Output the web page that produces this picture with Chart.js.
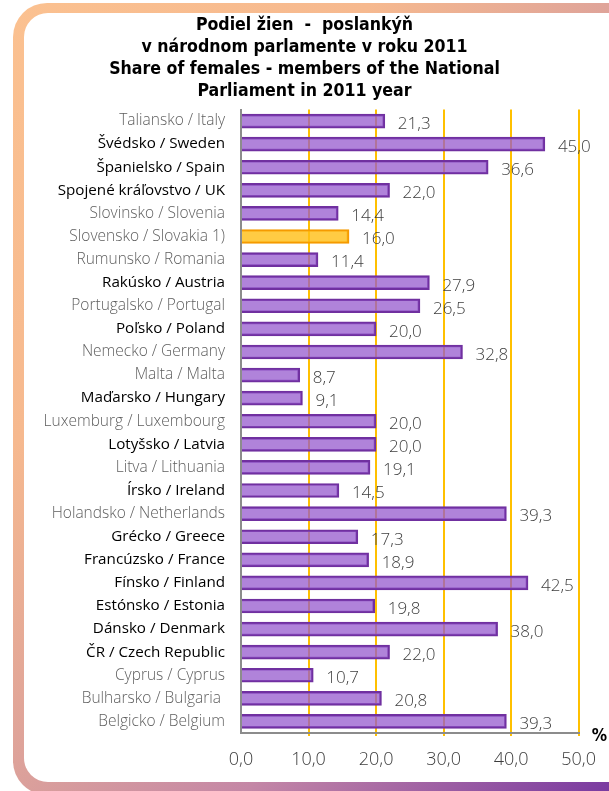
<!DOCTYPE html>
<html lang="sk">
<head>
<meta charset="utf-8">
<title>Podiel žien - poslankýň v národnom parlamente</title>
<script src="https://cdn.jsdelivr.net/npm/chart.js@4/dist/chart.umd.min.js"></script>
<style>
    html, body { margin: 0; padding: 0; background: #fff; }
    #obal { position: relative; width: 609px; height: 791px; overflow: hidden; }
    #ram {
        position: absolute; left: 13px; top: 3px; width: 640px; height: 792px;
        border-radius: 34px;
        background: linear-gradient(to bottom right, #fbc190 0%, #f6b98f 28%, #dba09b 50%, #c487a6 68%, #7030a0 100%);
    }
    #vnutro {
        position: absolute; left: 24px; top: 13px; width: 620px; height: 769px;
        border-radius: 24px; background: #fff;
    }
    #graf { position: absolute; left: 0; top: 0; }
</style>
</head>
<body>
<div id="obal">
    <div id="ram"></div>
    <div id="vnutro"></div>
    <canvas id="graf" width="609" height="791"></canvas>
</div>
<script>
// Krajiny a podiel žien v parlamente (%)
const krajiny = [
    'Taliansko / Italy', 'Švédsko / Sweden', 'Španielsko / Spain', 'Spojené kráľovstvo / UK',
    'Slovinsko / Slovenia', 'Slovensko / Slovakia 1)', 'Rumunsko / Romania', 'Rakúsko / Austria',
    'Portugalsko / Portugal', 'Poľsko / Poland', 'Nemecko / Germany', 'Malta / Malta',
    'Maďarsko / Hungary', 'Luxemburg / Luxembourg', 'Lotyšsko / Latvia', 'Litva / Lithuania',
    'Írsko / Ireland', 'Holandsko / Netherlands', 'Grécko / Greece', 'Francúzsko / France',
    'Fínsko / Finland', 'Estónsko / Estonia', 'Dánsko / Denmark', 'ČR / Czech Republic',
    'Cyprus / Cyprus', 'Bulharsko / Bulgaria ', 'Belgicko / Belgium'
];
const podielZien = [
    21.3, 45.0, 36.6, 22.0,
    14.4, 16.0, 11.4, 27.9,
    26.5, 20.0, 32.8, 8.7,
    9.1, 20.0, 20.0, 19.1,
    14.5, 39.3, 17.3, 18.9,
    42.5, 19.8, 38.0, 22.0,
    10.7, 20.8, 39.3
];
const osX = [0, 10, 20, 30, 40, 50];
const nadpis = [
    'Podiel žien  -  poslankýň',
    'v národnom parlamente v roku 2011',
    'Share of females - members of the National',
    'Parliament in 2011 year'
];
const jednotka = '%';

// Krajiny, ktorých popis je vysadený tmavším písmom
const tmaveStitky = new Set([
    'Švédsko / Sweden', 'Španielsko / Spain', 'Spojené kráľovstvo / UK', 'Rakúsko / Austria',
    'Poľsko / Poland', 'Maďarsko / Hungary', 'Lotyšsko / Latvia', 'Írsko / Ireland',
    'Grécko / Greece', 'Francúzsko / France', 'Fínsko / Finland', 'Estónsko / Estonia',
    'Dánsko / Denmark', 'ČR / Czech Republic'
]);

const formatCisla = v => v.toFixed(1).replace('.', ',');
const jeSlovensko = k => k.indexOf('Slovakia') !== -1;

// Hodnoty za koncom stĺpcov a značka jednotky pri osi
const popiskyHodnot = {
    id: 'popiskyHodnot',
    afterDatasetsDraw(chart) {
        const ctx = chart.ctx;
        const meta = chart.getDatasetMeta(0);
        ctx.save();
        ctx.font = '300 17px "Open Sans", sans-serif';
        ctx.fillStyle = '#404040';
        ctx.textAlign = 'left';
        ctx.textBaseline = 'middle';
        meta.data.forEach((stlpec, i) => {
            ctx.fillText(formatCisla(podielZien[i]), stlpec.x + 13, stlpec.y + 3);
        });
        const plocha = chart.chartArea;
        ctx.font = 'bold 17px "DejaVu Sans Condensed", "DejaVu Sans", sans-serif';
        ctx.fillStyle = '#000';
        ctx.fillText(jednotka, plocha.right + 13, plocha.bottom + 4);
        ctx.restore();
    }
};

new Chart(document.getElementById('graf'), {
    type: 'bar',
    data: {
        labels: krajiny,
        datasets: [{
            data: podielZien,
            backgroundColor: krajiny.map(k => jeSlovensko(k) ? 'rgba(255, 190, 20, 0.8)' : 'rgba(150, 90, 205, 0.75)'),
            borderColor: krajiny.map(k => jeSlovensko(k) ? '#f59a00' : '#7030a0'),
            borderWidth: 2,
            barThickness: 14
        }]
    },
    options: {
        indexAxis: 'y',
        responsive: false,
        animation: false,
        layout: { padding: { left: 0, right: 0, top: 0, bottom: 14 } },
        plugins: {
            legend: { display: false },
            tooltip: { enabled: false },
            title: {
                display: true,
                text: nadpis,
                color: '#000',
                font: { family: '"DejaVu Sans Condensed", "DejaVu Sans", sans-serif', size: 17.6, weight: 'bold', lineHeight: 1.25 },
                padding: { top: 14, bottom: 7.5 }
            }
        },
        scales: {
            x: {
                min: osX[0],
                max: osX[osX.length - 1],
                afterBuildTicks: os => { os.ticks = osX.map(v => ({ value: v })); },
                afterFit: os => { os.height = 44; },
                border: { display: true, color: '#8c8c8c', width: 2 },
                grid: {
                    drawTicks: true,
                    tickLength: 3,
                    color: c => c.tick && c.tick.value === 0 ? 'rgba(0,0,0,0)' : '#ffc000',
                    lineWidth: 2
                },
                ticks: {
                    padding: 13,
                    color: '#3c3c3c',
                    font: { family: '"Open Sans", sans-serif', size: 18, weight: '300' },
                    callback: v => formatCisla(v)
                }
            },
            y: {
                afterFit: os => { os.width = 241; },
                border: { display: true, color: '#8c8c8c', width: 2 },
                grid: { display: false },
                ticks: {
                    padding: 8,
                    autoSkip: false,
                    color: c => tmaveStitky.has(krajiny[c.index]) ? '#000' : '#5e5e5e',
                    font: c => tmaveStitky.has(krajiny[c.index])
                        ? { family: '"Open Sans", sans-serif', size: 15.2, weight: '400' }
                        : { family: '"Open Sans", sans-serif', size: 15.5, weight: '300' }
                }
            },
            // prázdny pás vpravo, aby nadpis zostal v strede plátna
            okraj: {
                type: 'linear',
                axis: 'y',
                position: 'right',
                afterFit: os => { os.width = 30; },
                border: { display: false },
                grid: { display: false },
                ticks: { display: false }
            }
        }
    },
    plugins: [popiskyHodnot]
});
</script>
</body>
</html>
